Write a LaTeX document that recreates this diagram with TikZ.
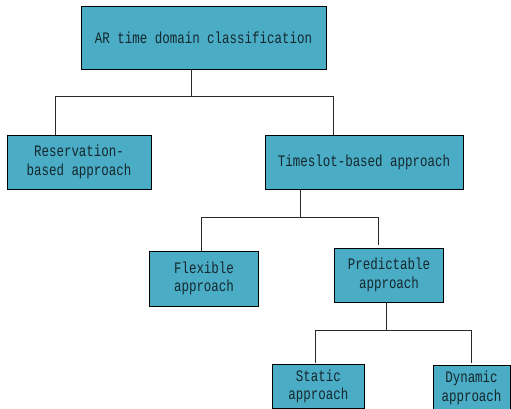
\documentclass[tikz,border=0pt]{standalone}
\usepackage{fontspec}
\setmonofont[FakeStretch=0.78]{Liberation Mono}
\definecolor{boxfill}{RGB}{75,172,198}
\definecolor{linegray}{RGB}{40,40,40}
\definecolor{labeltext}{RGB}{20,40,45}
\begin{document}
\begin{tikzpicture}[x=1pt,y=-1pt,
  box/.style={draw=black, line width=0.9pt, fill=boxfill, rectangle,
    inner sep=0pt, align=center, text=labeltext,
    font=\ttfamily\fontsize{16}{18.5}\selectfont},
  link/.style={draw=linegray, line width=0.9pt}]
\useasboundingbox (0,0) rectangle (511,409);
\begin{scope}
\clip (0,0) rectangle (511,409);
% boxes
\node[box, minimum width=245, minimum height=63] (root) at (203.5,37.5) {AR time domain classification};
\node[box, minimum width=144, minimum height=54] (res) at (79,162) {Reservation-\\based approach};
\node[box, minimum width=198, minimum height=54] (ts) at (364,162) {Timeslot-based approach};
\node[box, minimum width=109, minimum height=55] (flex) at (204,278.5) {Flexible\\approach};
\node[box, minimum width=109, minimum height=54] (pred) at (389,275) {Predictable\\approach};
\node[box, minimum width=92, minimum height=44] (stat) at (318.3,386.2) {Static\\approach};
\node[box, minimum width=77, minimum height=46] (dyn) at (471.5,388) {Dynamic\\approach};
% junction points of the tree
\coordinate (j1) at (191,96);
\coordinate (l1) at (55,96);
\coordinate (r1) at (333,96);
\coordinate (j2) at (300,217.7);
\coordinate (l2) at (201,217.7);
\coordinate (r2) at (378.7,217.7);
\coordinate (j3) at (386.7,330);
\coordinate (l3) at (315,330);
\coordinate (r3) at (471,330);
% connectors
\draw[link] (root.south -| j1) -- (j1);
\draw[link] (res.north -| l1) -- (l1) -- (r1) -- (r1 |- ts.north);
\draw[link] (ts.south -| j2) -- (j2);
\draw[link] (flex.north -| l2) -- (l2) -- (r2) -- ([yshift=3pt]r2 |- pred.north);
\draw[link] (pred.south -| j3) -- (j3);
\draw[link] ([yshift=1pt]stat.north -| l3) -- (l3) -- (r3) -- ([yshift=2pt]r3 |- dyn.north);
\end{scope}
\end{tikzpicture}
\end{document}
